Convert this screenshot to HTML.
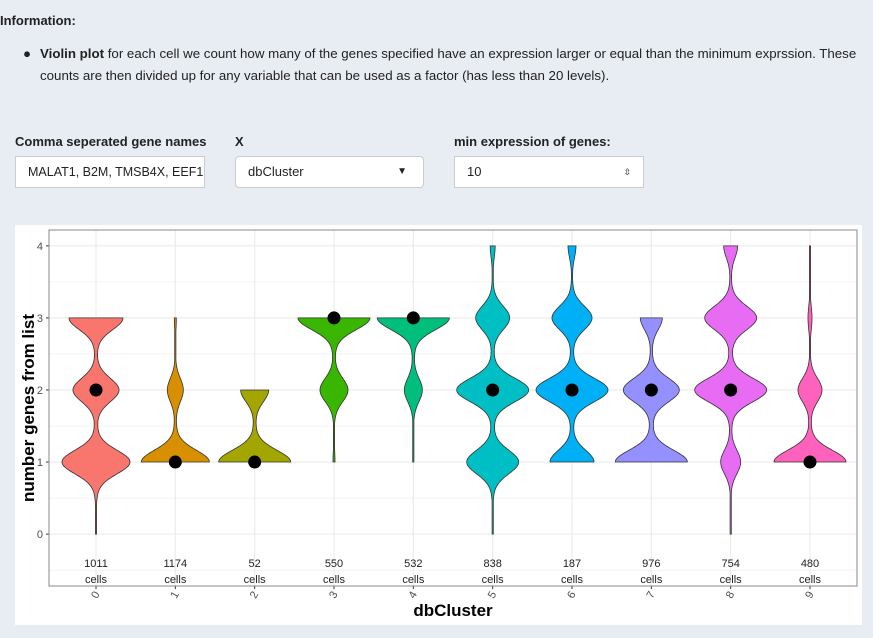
<!DOCTYPE html>
<html><head><meta charset="utf-8">
<style>
body{margin:0;width:873px;height:638px;background:#e8edf4;font-family:"Liberation Sans",sans-serif;color:#222;position:relative;overflow:hidden}
.abs{position:absolute}
.lbl{font-weight:bold;font-size:13px}
.inp{position:absolute;background:#fff;border:1px solid #ccc;border-radius:3px;height:32px;box-sizing:border-box;font-size:13px;line-height:30px;padding-left:12px;white-space:nowrap;overflow:hidden}
</style></head><body>
<div class="abs lbl" style="left:0;top:13px">Information:</div>
<div class="abs" style="left:40px;top:43px;font-size:13.3px;line-height:22px;width:820px"><span style="position:absolute;left:-17px">●</span><b>Violin plot</b> for each cell we count how many of the genes specified have an expression larger or equal than the minimum exprssion. These counts are then divided up for any variable that can be used as a factor (has less than 20 levels).</div>
<div class="abs lbl" style="left:15px;top:134px">Comma seperated gene names</div>
<div class="inp" style="left:15px;top:156px;width:190px;border-radius:0;font-size:12.5px">MALAT1, B2M, TMSB4X, EEF1</div>
<div class="abs lbl" style="left:235px;top:134px">X</div>
<div class="inp" style="left:235px;top:156px;width:189px;border-radius:4px">dbCluster<span style="position:absolute;right:16px;top:0;font-size:10px">▼</span></div>
<div class="abs lbl" style="left:454px;top:134px">min expression of genes:</div>
<div class="inp" style="left:454px;top:156px;width:190px;border-radius:0">10<span style="position:absolute;right:12px;top:0;font-size:9px">⇳</span></div>
<svg class="abs" style="left:0;top:0" width="873" height="638" id="chart">
<rect x="15" y="225" width="847" height="400" fill="#fff"/>
</svg>
<script>
const categories=["0","1","2","3","4","5","6","7","8","9"];
const cellCounts=[1011,1174,52,550,532,838,187,976,754,480];
const medians=[2,1,1,3,3,2,2,2,2,1];
const rangeMin=[0,1,1,1,1,0,1,1,0,1];
const rangeMax=[3,3,2,3,3,4,4,3,4,4];
const w0=[0.5,0,0,0,0,0.5,0,0,0.5,0];
const w1=[34,34,36,1,0.5,26,22,36,10,36];
const w2=[23,8,14,14,9,36,36,28,36,12];
const w3=[27,1,0,36,36,17,20,11,26,2];
const w4=[0,0,0,0,0,2.5,4,0,7,0.5];
const yTicks=[0,1,2,3,4];
const colors=["#F8766D","#D89000","#A3A500","#39B600","#00BF7D","#00BFC4","#00B0F6","#9590FF","#E76BF3","#FF62BC"];
const svg=document.getElementById('chart');
const NS='http://www.w3.org/2000/svg';
const L=49,R=857,T=230,B=586;
const yMin=-0.72,yMax=4.22;
const y=v=>B-(v-yMin)/(yMax-yMin)*(B-T);
const x=i=>96+i*(810-96)/9;
function mk(t,a,p){const e=document.createElementNS(NS,t);for(const k in a)e.setAttribute(k,a[k]);(p||svg).appendChild(e);return e;}
for(let v=-0.5;v<=4;v+=0.5){const g=mk('line',{x1:L,x2:R,y1:y(v),y2:y(v),stroke:'#ebebeb','stroke-width':Number.isInteger(v)?1.1:0.6});

}
categories.forEach((c,i)=>{const g=mk('line',{x1:x(i),x2:x(i),y1:T,y2:B,stroke:'#ebebeb','stroke-width':1.1});

});
const s1=0.16,s2=0.3;
categories.forEach((c,i)=>{
  const ws=[w0[i],w1[i],w2[i],w3[i],w4[i]];
  const hw=v=>{let s=0;for(let k=0;k<5;k++){const d2=(v-k)**2;s+=ws[k]*(0.9*Math.exp(-d2/(2*s1*s1))+0.1*Math.exp(-d2/(2*s2*s2)));}return Math.max(s,0.6);};
  const pts=[],n=240,a=rangeMin[i],b=rangeMax[i];
  for(let j=0;j<=n;j++){const v=a+(b-a)*j/n;pts.push([x(i)+hw(v),y(v)]);}
  for(let j=n;j>=0;j--){const v=a+(b-a)*j/n;pts.push([x(i)-hw(v),y(v)]);}
  const p=mk('path',{d:'M'+pts.map(q=>q[0].toFixed(1)+','+q[1].toFixed(1)).join('L')+'Z',fill:colors[i],stroke:'#333','stroke-width':0.8});
  
  
  const d=mk('circle',{cx:x(i),cy:y(medians[i]),r:6.5,fill:'#000'});
  
  
  const t1=mk('text',{x:x(i),y:567,'font-size':11,'text-anchor':'middle',fill:'#222'});t1.textContent=cellCounts[i];
  
  
  const t2=mk('text',{x:x(i),y:583,'font-size':11,'text-anchor':'middle',fill:'#222'});t2.textContent='cells';
  
  
  mk('line',{x1:x(i),x2:x(i),y1:B,y2:B+3,stroke:'#333'});
  const xt=mk('text',{x:0,y:0,'font-size':11,fill:'#4d4d4d','text-anchor':'end',transform:`translate(${x(i)+4},${B+8}) rotate(-60)`});xt.textContent=c;
  
  
});
yTicks.forEach(v=>{
  mk('line',{x1:L-3,x2:L,y1:y(v),y2:y(v),stroke:'#333'});
  const t=mk('text',{x:L-6,y:y(v)+4,'font-size':11,fill:'#4d4d4d','text-anchor':'end'});t.textContent=v;
  
  
});
const fr=mk('rect',{x:L,y:T,width:R-L,height:B-T,fill:'none',stroke:'#888','stroke-width':1});


const yt=mk('text',{x:0,y:0,'font-size':17,'font-weight':'bold','text-anchor':'middle',transform:`translate(34,${(T+B)/2}) rotate(-90)`});yt.textContent='number genes from list';


const xt=mk('text',{x:(L+R)/2,y:616,'font-size':17,'font-weight':'bold','text-anchor':'middle'});xt.textContent='dbCluster';


</script>
</body></html>
